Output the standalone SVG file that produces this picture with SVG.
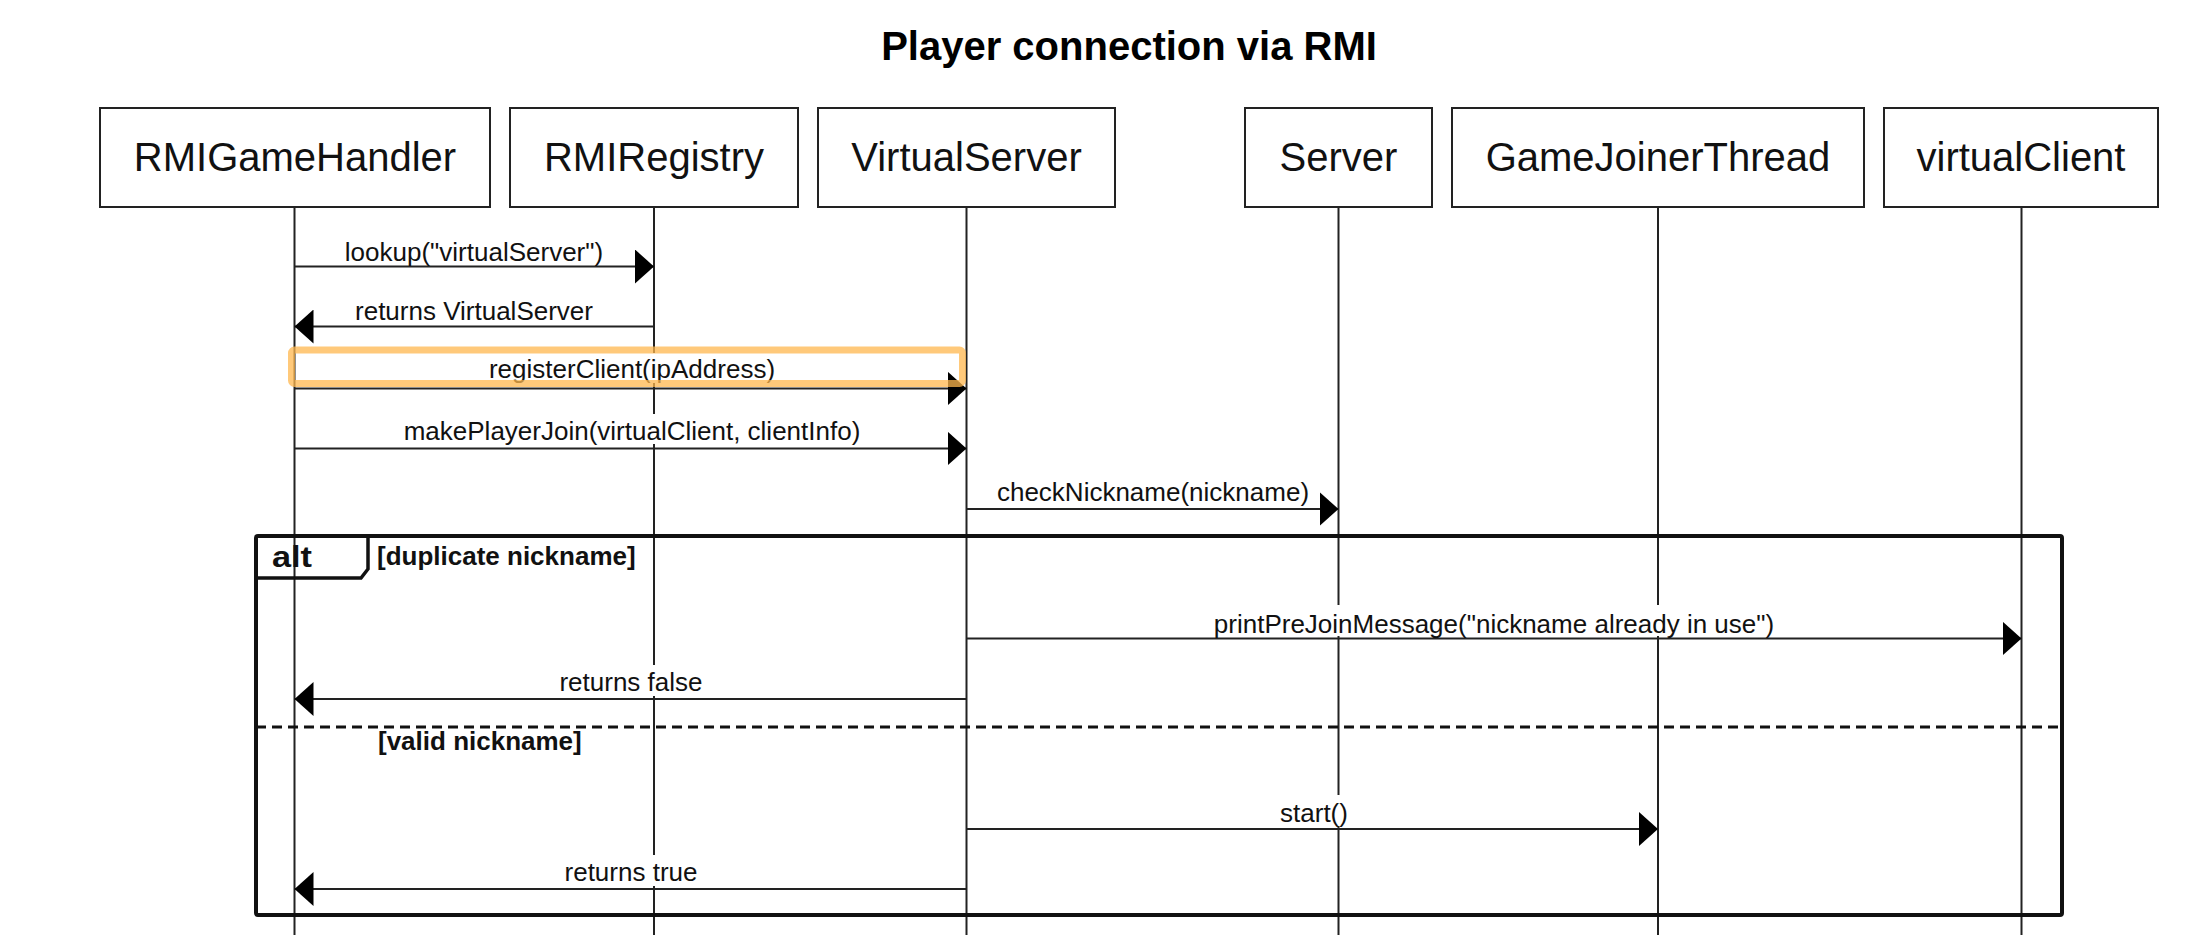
<svg xmlns="http://www.w3.org/2000/svg" width="2194" height="935" viewBox="0 0 2194 935">
  <style>
    .box { fill: #ffffff; stroke: #222222; stroke-width: 2; }
    .pt { font-family: "Liberation Sans", Arial, sans-serif; font-size: 40px; fill: #111111; text-anchor: middle; }
    .title { font-family: "Liberation Sans", Arial, sans-serif; font-size: 40px; font-weight: bold; fill: #000000; text-anchor: middle; }
    .life { stroke: #222222; stroke-width: 2; fill: none; }
    .msg { stroke: #222222; stroke-width: 2; fill: none; marker-end: url(#arr); }
    .ml { font-family: "Liberation Sans", Arial, sans-serif; font-size: 26px; fill: #111111; text-anchor: middle; }
    .bg { fill: #ffffff; stroke: none; }
    .frame { fill: none; stroke: #111111; stroke-width: 4; }
    .guard { font-family: "Liberation Sans", Arial, sans-serif; font-size: 26px; font-weight: bold; fill: #111111; }
    .altlbl { font-family: "Liberation Sans", Arial, sans-serif; font-size: 30px; font-weight: bold; fill: #111111; }
  </style>
  <defs>
    <marker id="arr" markerUnits="userSpaceOnUse" markerWidth="20" markerHeight="34" refX="19" refY="17" orient="auto">
      <path d="M0,0 L19,17 L0,34 Z" fill="#000000"/>
    </marker>
  </defs>
  <rect x="0" y="0" width="2194" height="935" fill="#ffffff"/>

  <text class="title" x="1129" y="60">Player connection via RMI</text>

  <g id="lifelines">
    <line class="life" x1="294.5" y1="207" x2="294.5" y2="935"/>
    <line class="life" x1="654" y1="207" x2="654" y2="935"/>
    <line class="life" x1="966.5" y1="207" x2="966.5" y2="935"/>
    <line class="life" x1="1338.5" y1="207" x2="1338.5" y2="935"/>
    <line class="life" x1="1658" y1="207" x2="1658" y2="935"/>
    <line class="life" x1="2021.5" y1="207" x2="2021.5" y2="935"/>
  </g>

  <g id="RMIGameHandler">
    <rect class="box" x="100" y="108" width="390" height="99"/>
    <text class="pt" x="295" y="171">RMIGameHandler</text>
  </g>
  <g id="RMIRegistry">
    <rect class="box" x="510" y="108" width="288" height="99"/>
    <text class="pt" x="654" y="171">RMIRegistry</text>
  </g>
  <g id="VirtualServer">
    <rect class="box" x="818" y="108" width="297" height="99"/>
    <text class="pt" x="966.5" y="171">VirtualServer</text>
  </g>
  <g id="Server">
    <rect class="box" x="1245" y="108" width="187" height="99"/>
    <text class="pt" x="1338.5" y="171">Server</text>
  </g>
  <g id="GameJoinerThread">
    <rect class="box" x="1452" y="108" width="412" height="99"/>
    <text class="pt" x="1658" y="171">GameJoinerThread</text>
  </g>
  <g id="virtualClient">
    <rect class="box" x="1884" y="108" width="274" height="99"/>
    <text class="pt" x="2021" y="171">virtualClient</text>
  </g>

  <g id="alt-fragment">
    <rect class="frame" x="256" y="536" width="1806" height="379" rx="2"/>
    <path d="M256,578 H361 L368,569 V536" fill="none" stroke="#111111" stroke-width="3.5"/>
    <text class="altlbl" x="272" y="567" textLength="40" lengthAdjust="spacingAndGlyphs">alt</text>
    <text class="guard" x="377" y="565">[duplicate nickname]</text>
    <line x1="256" y1="727" x2="2062" y2="727" stroke="#111111" stroke-width="3" stroke-dasharray="10 6"/>
    <text class="guard" x="378" y="750">[valid nickname]</text>
  </g>

  <g id="connectors">
    <line class="msg" x1="294.5" y1="266.5" x2="654" y2="266.5"/>
    <text class="ml" x="474" y="261">lookup("virtualServer")</text>

    <line class="msg" x1="654" y1="326.5" x2="294.5" y2="326.5"/>
    <text class="ml" x="474" y="320">returns VirtualServer</text>

    <line class="msg" x1="294.5" y1="388.5" x2="966.5" y2="388.5"/>
    <rect class="bg" x="487" y="353" width="290" height="30"/>
    <text class="ml" x="632" y="378">registerClient(ipAddress)</text>

    <line class="msg" x1="294.5" y1="448.5" x2="966.5" y2="448.5"/>
    <rect class="bg" x="399" y="414" width="466" height="30"/>
    <text class="ml" x="632" y="440">makePlayerJoin(virtualClient, clientInfo)</text>

    <line class="msg" x1="966.5" y1="509" x2="1338.5" y2="509"/>
    <text class="ml" x="1153" y="501">checkNickname(nickname)</text>

    <line class="msg" x1="966.5" y1="638.5" x2="2021.5" y2="638.5"/>
    <rect class="bg" x="1212" y="605" width="565" height="31"/>
    <text class="ml" x="1494" y="633">printPreJoinMessage("nickname already in use")</text>

    <line class="msg" x1="966.5" y1="699" x2="294.5" y2="699"/>
    <rect class="bg" x="557" y="665" width="148" height="31"/>
    <text class="ml" x="631" y="691">returns false</text>

    <line class="msg" x1="966.5" y1="829" x2="1658" y2="829"/>
    <rect class="bg" x="1276" y="795" width="76" height="31"/>
    <text class="ml" x="1314" y="822">start()</text>

    <line class="msg" x1="966.5" y1="889" x2="294.5" y2="889"/>
    <rect class="bg" x="563" y="855" width="136" height="31"/>
    <text class="ml" x="631" y="881">returns true</text>
  </g>

  <g id="highlight">
    <rect x="291.5" y="350" width="671" height="33.5" rx="3" fill="none" stroke="#FFB74D" stroke-opacity="0.75" stroke-width="7"/>
  </g>
</svg>
